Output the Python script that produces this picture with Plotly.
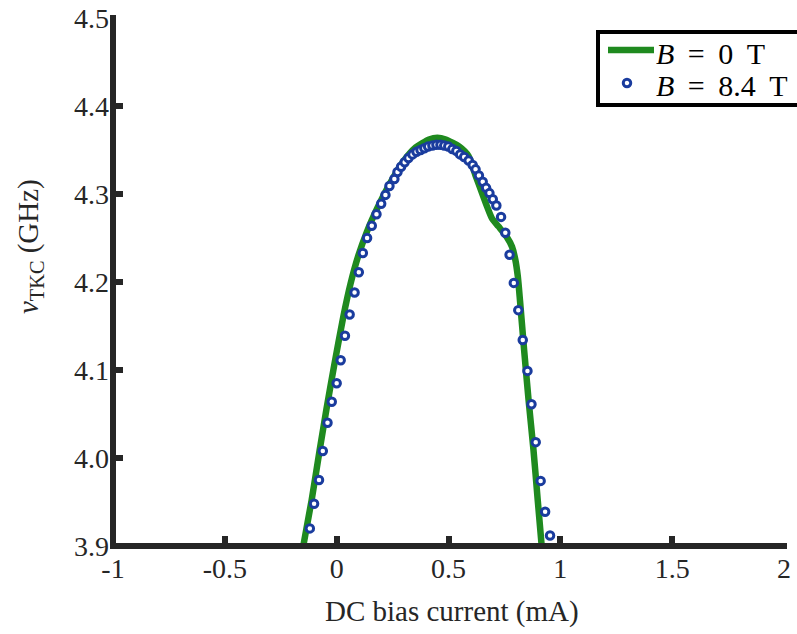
import plotly.graph_objects as go

# B = 0 T (continuous curve)
b0_current = [-0.150, -0.112, -0.076, -0.046, -0.012, 0.030, 0.062, 0.097, 0.135, 0.180,
              0.236, 0.295, 0.354, 0.413, 0.450, 0.488, 0.547, 0.590, 0.621, 0.650,
              0.672, 0.695, 0.724, 0.761, 0.784, 0.799, 0.810, 0.820, 0.838, 0.858,
              0.880, 0.899, 0.917]
b0_freq = [3.899, 3.952, 4.009, 4.055, 4.104, 4.161, 4.198, 4.230, 4.257, 4.283,
           4.311, 4.336, 4.353, 4.362, 4.364, 4.362, 4.354, 4.343, 4.321, 4.301,
           4.286, 4.272, 4.263, 4.251, 4.240, 4.225, 4.206, 4.178, 4.123, 4.066,
           4.009, 3.952, 3.899]

# B = 8.4 T (markers)
b84_current = [-0.120, -0.101, -0.079, -0.062, -0.041, -0.022, 0.000, 0.018, 0.037, 0.058,
               0.080, 0.099, 0.117, 0.136, 0.157, 0.178, 0.199, 0.218, 0.236, 0.258,
               0.272, 0.288, 0.304, 0.321, 0.339, 0.357, 0.375, 0.392, 0.409, 0.428,
               0.446, 0.464, 0.481, 0.499, 0.517, 0.535, 0.552, 0.570, 0.590, 0.608,
               0.621, 0.636, 0.653, 0.668, 0.683, 0.698, 0.714, 0.735, 0.754, 0.773,
               0.792, 0.812, 0.832, 0.853, 0.871, 0.890, 0.912, 0.932, 0.954]
b84_freq = [3.920, 3.948, 3.975, 4.008, 4.040, 4.064, 4.085, 4.111, 4.139, 4.163,
            4.188, 4.211, 4.233, 4.250, 4.264, 4.277, 4.289, 4.299, 4.309, 4.317,
            4.325, 4.331, 4.336, 4.341, 4.345, 4.348, 4.350, 4.352, 4.354, 4.355,
            4.356, 4.356, 4.355, 4.354, 4.351, 4.349, 4.345, 4.342, 4.338, 4.333,
            4.328, 4.321, 4.314, 4.307, 4.301, 4.294, 4.287, 4.274, 4.256, 4.231,
            4.199, 4.168, 4.134, 4.099, 4.061, 4.018, 3.974, 3.939, 3.912]

x_tickvals = [-1, -0.5, 0, 0.5, 1, 1.5, 2]
x_ticktext = ["-1", "-0.5", "0", "0.5", "1", "1.5", "2"]
y_tickvals = [3.9, 4.0, 4.1, 4.2, 4.3, 4.4, 4.5]
y_ticktext = ["3.9", "4.0", "4.1", "4.2", "4.3", "4.4", "4.5"]

SP = "&nbsp;\u2009"
legend_labels = ["<i>B</i>" + SP + "=" + SP + "0" + SP + "T",
                 "<i>B</i>" + SP + "=" + SP + "8.4" + SP + "T"]

FONT = "Liberation Serif"
AX = "#262626"
GREEN = "#1f8a1f"
BLUE = "#1a3c9e"

W, H = 797, 634
ML, MR, MT, MB = 113, 13, 18, 88
PW, PH = W - ML - MR, H - MT - MB


def px(xs):  # page x -> paper x
    return (xs - ML) / PW


def py(ys):  # page y -> paper y
    return (H - MB - ys) / PH


fig = go.Figure()
fig.add_trace(go.Scatter(
    x=b0_current, y=b0_freq, mode="lines", name="B = 0 T", showlegend=False,
    line=dict(color=GREEN, width=6.5, shape="spline", smoothing=0.6),
))
fig.add_trace(go.Scatter(
    x=b84_current, y=b84_freq, mode="markers", name="B = 8.4 T", showlegend=False,
    marker=dict(symbol="circle", size=7.5, color="white",
                line=dict(color=BLUE, width=3)),
))

ext_x, ext_y = 3 / PW, 3 / PH
shapes = [
    # axis lines (MATLAB-style, centred on plot edge)
    dict(type="line", xref="paper", yref="paper", x0=-ext_x, x1=1 + ext_x, y0=0, y1=0,
         line=dict(color=AX, width=6), layer="above"),
    dict(type="line", xref="paper", yref="paper", x0=0, x1=0, y0=-ext_y, y1=1 + ext_y,
         line=dict(color=AX, width=6), layer="above"),
    # legend box
    dict(type="rect", xref="paper", yref="paper", x0=px(598), x1=px(830), y0=py(105), y1=py(32),
         line=dict(color="black", width=4), fillcolor="white", layer="above"),
    dict(type="line", xref="paper", yref="paper", x0=px(608), x1=px(654), y0=py(50), y1=py(50),
         line=dict(color=GREEN, width=6.5), layer="above"),
    dict(type="circle", xref="paper", yref="paper", xsizemode="pixel", ysizemode="pixel",
         xanchor=px(627), yanchor=py(83), x0=-3.75, x1=3.75, y0=-3.75, y1=3.75,
         line=dict(color=BLUE, width=3), fillcolor="white", layer="above"),
]

annotations = [
    dict(text=legend_labels[0], xref="paper", yref="paper", x=px(654), y=py(53),
         xanchor="left", yanchor="middle", showarrow=False,
         font=dict(family=FONT, size=30, color="black")),
    dict(text=legend_labels[1], xref="paper", yref="paper", x=px(654), y=py(85),
         xanchor="left", yanchor="middle", showarrow=False,
         font=dict(family=FONT, size=30, color="black")),
    dict(text="<i>ν</i><sub>TKC</sub> (GHz)", textangle=-90,
         xref="paper", yref="paper", x=px(30), y=py(247),
         xanchor="center", yanchor="middle", showarrow=False,
         font=dict(family=FONT, size=29, color=AX)),
    dict(text="DC bias current (mA)",
         xref="paper", yref="paper", x=px(452), y=py(611),
         xanchor="center", yanchor="middle", showarrow=False,
         font=dict(family=FONT, size=29, color=AX)),
]

fig.update_layout(
    width=W, height=H,
    margin=dict(l=ML, r=MR, t=MT, b=MB, autoexpand=False),
    paper_bgcolor="white", plot_bgcolor="white",
    font=dict(family=FONT, color=AX),
    showlegend=False,
    xaxis=dict(
        range=[-1, 2], tickmode="array", tickvals=x_tickvals, ticktext=x_ticktext,
        showgrid=False, zeroline=False, showline=False,
        ticks="inside", ticklen=10, tickwidth=6, tickcolor=AX,
        tickfont=dict(family=FONT, size=28, color=AX),
        ticklabeloverflow="allow", ticklabelstandoff=3,
    ),
    yaxis=dict(
        range=[3.9, 4.5], tickmode="array", tickvals=y_tickvals, ticktext=y_ticktext,
        showgrid=False, zeroline=False, showline=False,
        ticks="inside", ticklen=10, tickwidth=6, tickcolor=AX,
        tickfont=dict(family=FONT, size=28, color=AX),
        ticklabeloverflow="allow", ticklabelstandoff=3,
    ),
    shapes=shapes,
    annotations=annotations,
)

fig.write_html(
    "out.html",
    config={"displayModeBar": False},
    post_script="document.body.style.margin='0';document.body.style.overflow='hidden';",
)
